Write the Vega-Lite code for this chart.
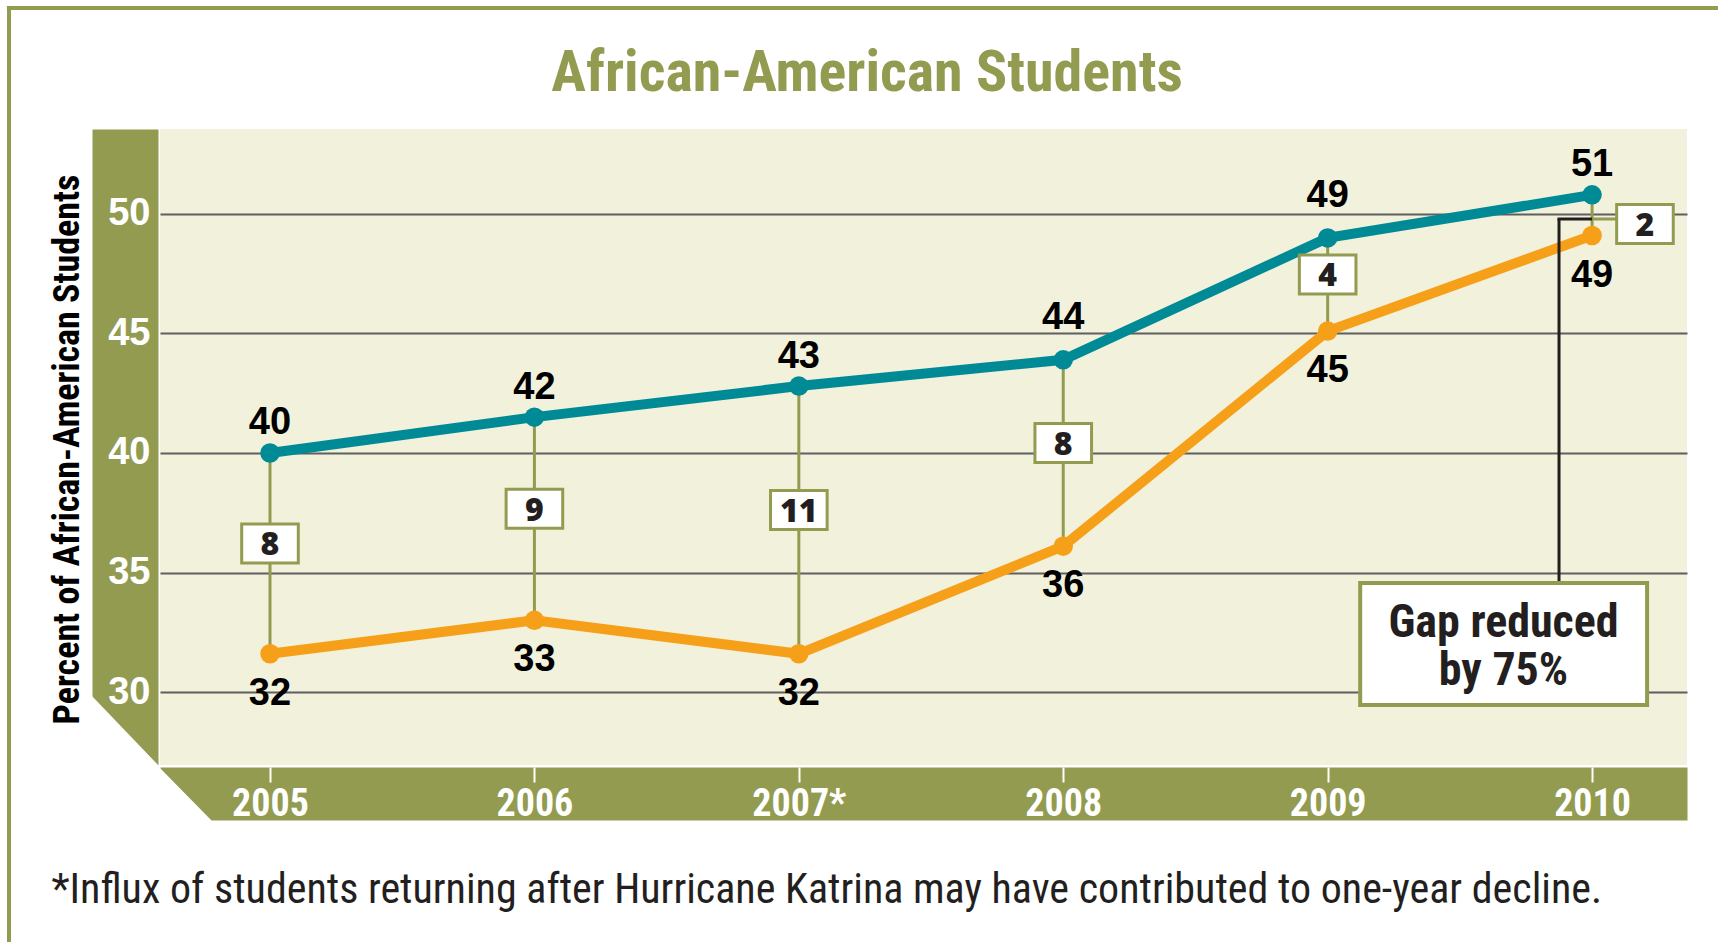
{
  "$schema": "https://vega.github.io/schema/vega-lite/v6.json",
  "width": 1527,
  "height": 636,
  "autosize": {"type": "none"},
  "padding": {"left": 160, "top": 129, "right": 31, "bottom": 177},
  "background": "#FFFFFF",
  "config": {"view": {"fill": "#F2F1DC", "stroke": null}},
  "title": {
    "text": "African-American Students",
    "font": "Roboto Condensed",
    "fontWeight": "bold",
    "fontSize": 58,
    "color": "#939B50",
    "anchor": "middle",
    "frame": "group",
    "baseline": "alphabetic",
    "offset": -145,
    "dx": -56.5
  },
  "resolve": {"axis": {"x": "independent", "y": "independent"}},
  "data": {
    "values": [
      {"year": 2005, "groupA": 40.0, "groupB": 31.6, "gap": 8},
      {"year": 2006, "groupA": 41.5, "groupB": 33.0, "gap": 9},
      {"year": 2007, "groupA": 42.8, "groupB": 31.6, "gap": 11},
      {"year": 2008, "groupA": 43.9, "groupB": 36.1, "gap": 8},
      {"year": 2009, "groupA": 49.0, "groupB": 45.1, "gap": 4},
      {"year": 2010, "groupA": 50.8, "groupB": 49.1, "gap": 2}
    ]
  },
  "encoding": {
    "x": {
      "field": "year",
      "type": "quantitative",
      "scale": {"domain": [2004.584, 2010.359], "nice": false, "zero": false},
      "axis": null
    }
  },
  "layer": [
    {
      "mark": {"type": "rule", "color": "#939B50", "strokeWidth": 3},
      "encoding": {
        "x": {
          "field": "year",
          "type": "quantitative",
          "axis": {"orient": "bottom", "offset": 28.5, "domainColor": "#939B50", "domainWidth": 53, "ticks": false, "labels": false, "grid": false, "title": null}
        },
        "y": {
          "field": "groupA",
          "type": "quantitative",
          "scale": {"domain": [26.946, 53.556], "nice": false, "zero": false},
          "axis": {"orient": "left", "offset": 35, "domainColor": "#939B50", "domainWidth": 66, "ticks": false, "labels": false, "grid": false, "title": null}
        },
        "y2": {"field": "groupB"}
      }
    },
    {
      "transform": [{"fold": ["groupA", "groupB"], "as": ["series", "pct"]}],
      "mark": {"type": "line", "strokeWidth": 10, "point": {"filled": true, "size": 380, "opacity": 1}},
      "encoding": {
        "x": {
          "field": "year",
          "type": "quantitative",
          "axis": {
            "orient": "bottom",
            "values": [2005, 2006, 2007, 2008, 2009, 2010],
            "format": "d",
            "labelExpr": "datum.value == 2007 ? '2007*' : datum.label",
            "offset": 2,
            "domain": false,
            "ticks": true,
            "tickColor": "#FFFFFF",
            "tickWidth": 2,
            "tickSize": 15,
            "grid": false,
            "labelColor": "#FFFFFF",
            "labelFont": "Roboto Condensed",
            "labelFontWeight": "bold",
            "labelFontSize": 38,
            "labelBaseline": "alphabetic",
            "labelPadding": 33,
            "labelFlush": false,
            "labelOverlap": false,
            "title": "*Influx of students returning after Hurricane Katrina may have contributed to one-year decline.",
            "titleFont": "Roboto Condensed",
            "titleFontWeight": "normal",
            "titleFontSize": 42,
            "titleColor": "#231F20",
            "titleX": -109,
            "titleY": 135,
            "titleAlign": "left",
            "titleBaseline": "alphabetic"
          }
        },
        "y": {
          "field": "pct",
          "type": "quantitative",
          "axis": {
            "orient": "left",
            "values": [30, 35, 40, 45, 50],
            "offset": 35,
            "domain": false,
            "ticks": false,
            "grid": true,
            "gridColor": "#5F5F5F",
            "gridWidth": 2,
            "labelColor": "#FFFFFF",
            "labelFont": "Liberation Sans",
            "labelFontWeight": "bold",
            "labelFontSize": 38,
            "labelAlign": "right",
            "labelBaseline": "middle",
            "labelPadding": -25,
            "title": "Percent of African-American Students",
            "titleFont": "Roboto Condensed",
            "titleFontWeight": "bold",
            "titleFontSize": 36,
            "titleColor": "#000000",
            "titleAngle": -90,
            "titleX": -47,
            "titleY": 320,
            "titleAlign": "center",
            "titleBaseline": "alphabetic"
          }
        },
        "color": {
          "field": "series",
          "type": "nominal",
          "scale": {"domain": ["groupA", "groupB"], "range": ["#008A96", "#F6A01A"]},
          "legend": null
        }
      }
    },
    {
      "transform": [{"filter": "datum.year != 2008 && datum.year != 2009"}],
      "mark": {"type": "text", "font": "Liberation Sans", "fontWeight": "bold", "fontSize": 38, "color": "#000000", "baseline": "alphabetic", "dy": -18.5},
      "encoding": {
        "y": {"field": "groupA", "type": "quantitative", "axis": null},
        "text": {"field": "groupA", "type": "quantitative", "format": ".0f"}
      }
    },
    {
      "transform": [{"filter": "datum.year == 2008 || datum.year == 2009"}],
      "mark": {"type": "text", "font": "Liberation Sans", "fontWeight": "bold", "fontSize": 38, "color": "#000000", "baseline": "alphabetic", "dy": -31},
      "encoding": {
        "y": {"field": "groupA", "type": "quantitative", "axis": null},
        "text": {"field": "groupA", "type": "quantitative", "format": ".0f"}
      }
    },
    {
      "mark": {"type": "text", "font": "Liberation Sans", "fontWeight": "bold", "fontSize": 38, "color": "#000000", "baseline": "alphabetic", "dy": 51},
      "encoding": {
        "y": {"field": "groupB", "type": "quantitative", "axis": null},
        "text": {"field": "groupB", "type": "quantitative", "format": ".0f"}
      }
    },
    {
      "transform": [
        {"filter": "datum.year < 2010"},
        {"calculate": "(datum.groupA + datum.groupB) / 2", "as": "mid"}
      ],
      "mark": {"type": "point", "shape": "M-1,-1.042H1V0.336H-1Z", "size": 3204, "filled": true, "fill": "#FFFFFF", "stroke": "#939B50", "strokeWidth": 3, "opacity": 1},
      "encoding": {"y": {"field": "mid", "type": "quantitative", "axis": null}}
    },
    {
      "transform": [
        {"filter": "datum.year < 2010"},
        {"calculate": "(datum.groupA + datum.groupB) / 2", "as": "mid"}
      ],
      "mark": {"type": "text", "font": "Noto Sans", "fontWeight": 900, "fontSize": 32, "color": "#231F20", "baseline": "middle", "dy": -8},
      "encoding": {
        "y": {"field": "mid", "type": "quantitative", "axis": null},
        "text": {"field": "gap", "type": "quantitative"}
      }
    },
    {
      "transform": [{"filter": "datum.year == 2010"}],
      "mark": {"type": "rule", "color": "#939B50", "strokeWidth": 3},
      "encoding": {
        "x": {"datum": 2010, "axis": null},
        "x2": {"datum": 2010.095},
        "y": {"datum": 49.79, "axis": null}
      }
    },
    {
      "transform": [{"filter": "datum.year == 2010"}],
      "mark": {"type": "point", "shape": "M-1,-0.689H1V0.689H-1Z", "size": 3204, "filled": true, "fill": "#FFFFFF", "stroke": "#939B50", "strokeWidth": 3, "opacity": 1},
      "encoding": {"x": {"datum": 2010.2, "axis": null}, "y": {"datum": 49.58, "axis": null}}
    },
    {
      "transform": [{"filter": "datum.year == 2010"}],
      "mark": {"type": "text", "font": "Noto Sans", "fontWeight": 900, "fontSize": 32, "color": "#231F20", "baseline": "middle", "dy": 2},
      "encoding": {
        "x": {"datum": 2010.2, "axis": null},
        "y": {"datum": 49.58, "axis": null},
        "text": {"field": "gap", "type": "quantitative"}
      }
    },
    {
      "transform": [{"filter": "datum.year == 2010"}],
      "mark": {"type": "rule", "color": "#231F20", "strokeWidth": 3},
      "encoding": {
        "x": {"datum": 2009.875, "axis": null},
        "y": {"datum": 49.79, "axis": null},
        "y2": {"datum": 34.56}
      }
    },
    {
      "transform": [{"filter": "datum.year == 2010"}],
      "mark": {"type": "rule", "color": "#231F20", "strokeWidth": 3},
      "encoding": {
        "x": {"datum": 2009.869, "axis": null},
        "x2": {"datum": 2010},
        "y": {"datum": 49.79, "axis": null}
      }
    },
    {
      "transform": [{"filter": "datum.year == 2010"}],
      "mark": {"type": "rect", "fill": "#FFFFFF", "stroke": "#939B50", "strokeWidth": 4},
      "encoding": {
        "x": {"datum": 2009.123, "axis": null},
        "x2": {"datum": 2010.208},
        "y": {"datum": 34.56, "axis": null},
        "y2": {"datum": 29.456}
      }
    },
    {
      "transform": [{"filter": "datum.year == 2010"}],
      "mark": {"type": "text", "font": "Roboto Condensed", "fontWeight": "bold", "fontSize": 46, "color": "#231F20", "align": "center", "baseline": "alphabetic", "lineHeight": 48},
      "encoding": {
        "x": {"datum": 2009.665, "axis": null},
        "y": {"datum": 32.30, "axis": null},
        "text": {"value": ["Gap reduced", "by 75%"]}
      }
    },
    {
      "transform": [{"filter": "datum.year == 2005"}],
      "mark": {"type": "point", "shape": "M-69,-70L-69,1L-1,1ZM-1,2L-1,56L52,56Z", "size": 4, "filled": true, "fill": "#FFFFFF", "strokeWidth": 0, "opacity": 1},
      "encoding": {"x": {"datum": 2004.584, "axis": null}, "y": {"datum": 26.946, "axis": null}}
    },
    {
      "transform": [{"filter": "datum.year == 2005"}],
      "mark": {"type": "rule", "color": "#939B50", "strokeWidth": 4},
      "encoding": {
        "x": {"datum": 2004.005, "axis": null},
        "x2": {"datum": 2010.476},
        "y": {"datum": 58.62, "axis": null}
      }
    },
    {
      "transform": [{"filter": "datum.year == 2005"}],
      "mark": {"type": "rule", "color": "#939B50", "strokeWidth": 4},
      "encoding": {
        "x": {"datum": 2004.013, "axis": null},
        "y": {"datum": 58.70, "axis": null},
        "y2": {"datum": 19}
      }
    }
  ]
}
